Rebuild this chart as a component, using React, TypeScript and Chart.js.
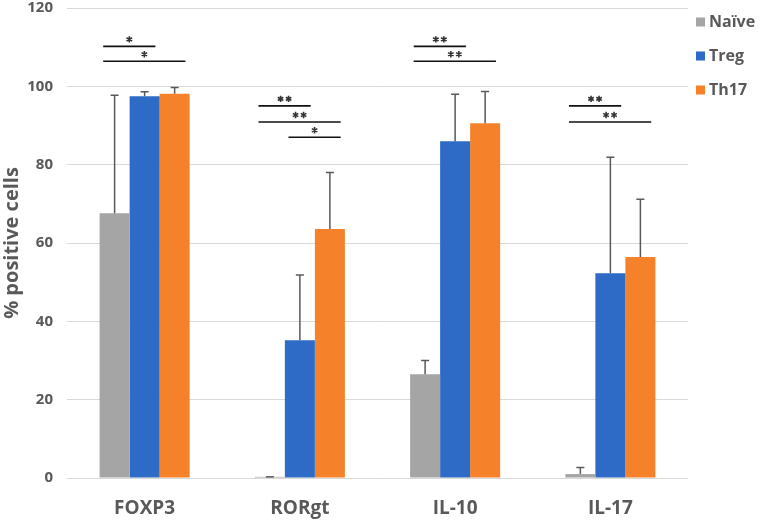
import React, { useEffect, useRef } from "react";
import { Chart, registerables } from "chart.js";

Chart.register(...registerables);

const categories = ["FOXP3", "RORgt", "IL-10", "IL-17"];
const seriesNames = ["Naïve", "Treg", "Th17"];
const seriesColors = ["#A5A5A5", "#2E6BC6", "#F5822A"];
const naiveValues = [67.6, 0.3, 26.5, 1.0];
const tregValues = [97.5, 35.2, 86.0, 52.3];
const th17Values = [98.1, 63.6, 90.6, 56.4];
const naiveErrorTop = [97.7, 0.3, 30.0, 2.7];
const tregErrorTop = [98.6, 51.8, 98.0, 81.9];
const th17ErrorTop = [99.7, 78.0, 98.7, 71.2];
const yTicks = [0, 20, 40, 60, 80, 100, 120];

// significance brackets: category index, from series, to series, y value, label
const bracketCategory = [0, 0, 1, 1, 1, 2, 2, 3, 3];
const bracketFrom = [0, 0, 0, 0, 1, 0, 0, 0, 0];
const bracketTo = [1, 2, 1, 2, 2, 1, 2, 1, 2];
const bracketY = [110.2, 106.4, 95.0, 90.9, 87.0, 110.2, 106.4, 95.0, 90.9];
const bracketLabel = ["*", "*", "**", "**", "*", "**", "**", "**", "**"];

const TEXT = "#595959";
const FONT = "'Open Sans', 'DejaVu Sans', sans-serif";

function drawStar(ctx: CanvasRenderingContext2D, cx: number, cy: number, r: number) {
  ctx.beginPath();
  for (let k = 0; k < 3; k++) {
    const a = (Math.PI / 3) * k + Math.PI / 2;
    ctx.moveTo(cx + r * Math.cos(a), cy + r * Math.sin(a));
    ctx.lineTo(cx - r * Math.cos(a), cy - r * Math.sin(a));
  }
  ctx.stroke();
}

export default function App() {
  const ref = useRef<HTMLCanvasElement | null>(null);

  useEffect(() => {
    if (!ref.current) return;
    const values = [naiveValues, tregValues, th17Values];
    const errors = [naiveErrorTop, tregErrorTop, th17ErrorTop];

    const errorPlugin = {
      id: "errorbars",
      afterDatasetsDraw(chart: any) {
        const ctx = chart.ctx;
        const y = chart.scales.y;
        ctx.save();
        ctx.strokeStyle = TEXT;
        ctx.lineWidth = 1.5;
        errors.forEach((errs, di) => {
          const meta = chart.getDatasetMeta(di);
          errs.forEach((e, j) => {
            const bar = meta.data[j];
            const x = bar.x;
            const y0 = y.getPixelForValue(values[di][j]);
            const y1 = y.getPixelForValue(e);
            ctx.beginPath();
            ctx.moveTo(x, y0);
            ctx.lineTo(x, y1);
            ctx.moveTo(x - 4, y1);
            ctx.lineTo(x + 4, y1);
            ctx.stroke();
          });
        });
        // brackets
        bracketCategory.forEach((c, k) => {
          const b0 = chart.getDatasetMeta(bracketFrom[k]).data[c];
          const b1 = chart.getDatasetMeta(bracketTo[k]).data[c];
          const w = b0.width;
          const x0 = b0.x - 0.38 * w;
          const x1 = b1.x + 0.36 * w;
          const yy = y.getPixelForValue(bracketY[k]);
          ctx.strokeStyle = "#111";
          ctx.lineWidth = 1.6;
          ctx.beginPath();
          ctx.moveTo(x0, yy);
          ctx.lineTo(x1, yy);
          ctx.stroke();
          const n = bracketLabel[k].length;
          const mid = (x0 + x1) / 2;
          ctx.strokeStyle = "#333";
          ctx.lineWidth = 1.6;
          for (let s = 0; s < n; s++) {
            const cx = mid + (s - (n - 1) / 2) * 8;
            drawStar(ctx, cx, yy - 7, 3.2);
          }
        });
        ctx.restore();
      },
    };

    const legendPlugin = {
      id: "customLegend",
      afterDraw(chart: any) {
        const ctx = chart.ctx;
        ctx.save();
        ctx.font = `bold 16px ${FONT}`;
        ctx.textBaseline = "middle";
        ctx.textAlign = "left";
        seriesNames.forEach((name, i) => {
          const cy = 22 + i * 34;
          ctx.fillStyle = seriesColors[i];
          ctx.fillRect(696, cy - 4.5, 9, 9);
          ctx.fillStyle = TEXT;
          ctx.fillText(name, 709, cy);
        });
        ctx.restore();
      },
    };

    const chart = new Chart(ref.current, {
      type: "bar",
      data: {
        labels: categories,
        datasets: seriesNames.map((name, i) => ({
          label: name,
          data: values[i],
          backgroundColor: seriesColors[i],
          borderWidth: 0,
          categoryPercentage: 0.58,
          barPercentage: 1,
        })),
      },
      options: {
        animation: false,
        responsive: false,
        maintainAspectRatio: false,
        layout: { padding: { top: 8, right: 74, left: 0, bottom: 0 } },
        plugins: {
          legend: { display: false },
          tooltip: { enabled: false },
        },
        scales: {
          x: {
            grid: { display: false, drawTicks: false },
            border: { display: false },
            ticks: {
              color: TEXT,
              font: { family: FONT, size: 19, weight: "bold" },
              padding: 19,
            },
            afterFit(scale: any) {
              scale.height = 48;
              scale.paddingLeft = 0;
              scale.paddingRight = 0;
            },
          },
          y: {
            min: 0,
            max: 120,
            afterBuildTicks(scale: any) {
              scale.ticks = yTicks.map((v) => ({ value: v }));
            },
            grid: { color: "#D9D9D9", lineWidth: 1, drawTicks: false },
            border: { display: false },
            ticks: {
              color: TEXT,
              font: { family: FONT, size: 15, weight: "bold" },
              padding: 14,
            },
            title: {
              display: true,
              text: "% positive cells",
              color: TEXT,
              font: { family: FONT, size: 20, weight: "bold" },
              padding: { top: 0, bottom: 0 },
            },
            afterFit(scale: any) {
              scale.width = 67;
              scale.paddingTop = 0;
              scale.paddingBottom = 0;
            },
          },
        },
      },
      plugins: [errorPlugin, legendPlugin],
    });
    return () => chart.destroy();
  }, []);

  return (
    <div style={{ position: "fixed", left: 0, top: 0, width: 762, height: 526, background: "#fff" }}>
      <canvas ref={ref} width={762} height={526} style={{ width: 762, height: 526 }} />
    </div>
  );
}
